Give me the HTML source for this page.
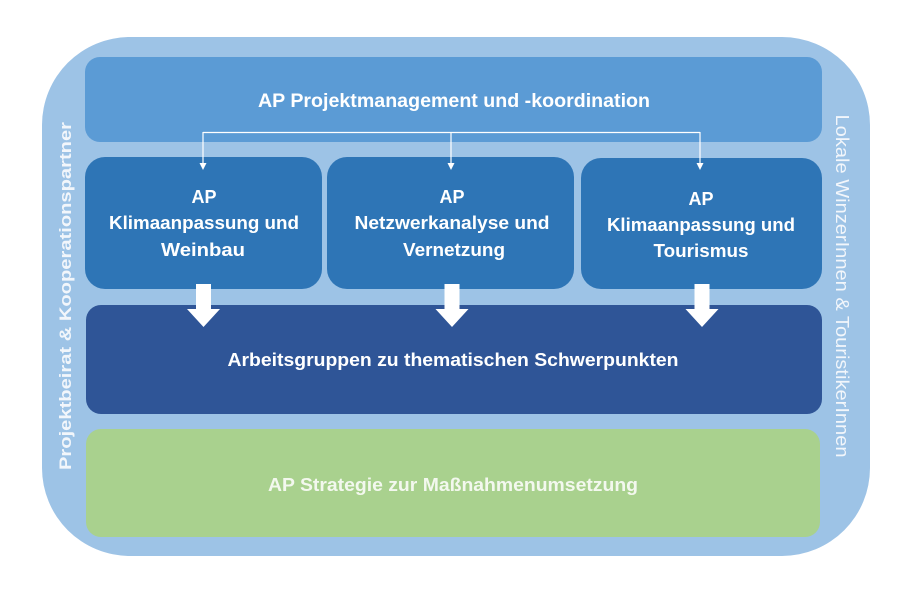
<!DOCTYPE html>
<html>
<head>
<meta charset="utf-8">
<style>
html,body{margin:0;padding:0;background:#ffffff;}
svg{display:block;}
text{font-family:"Liberation Sans",Arial,sans-serif;}
</style>
</head>
<body>
<svg width="914" height="600" viewBox="0 0 914 600" xmlns="http://www.w3.org/2000/svg">
  <rect x="0" y="0" width="914" height="600" fill="#ffffff"/>
  <!-- outer frame -->
  <rect x="42" y="37" width="828" height="519" rx="88" ry="88" fill="#9dc3e6"/>

  <!-- top bar -->
  <rect x="85" y="57" width="737" height="85" rx="15" ry="15" fill="#5b9bd5"/>
  <text x="454" y="107" font-size="19" font-weight="bold" fill="#ffffff" text-anchor="middle" textLength="392" lengthAdjust="spacingAndGlyphs">AP Projektmanagement und -koordination</text>

  <!-- three middle boxes -->
  <rect x="85" y="157" width="237" height="132" rx="20" ry="20" fill="#2e75b6"/>
  <rect x="327" y="157" width="247" height="132" rx="20" ry="20" fill="#2e75b6"/>
  <rect x="581" y="158" width="241" height="131" rx="20" ry="20" fill="#2e75b6"/>

  <!-- connector lines -->
  <g stroke="#ffffff" stroke-width="1.2" fill="none">
    <line x1="203" y1="132.5" x2="700" y2="132.5"/>
    <line x1="203" y1="132" x2="203" y2="165"/>
    <line x1="451" y1="132" x2="451" y2="165"/>
    <line x1="700" y1="132" x2="700" y2="165"/>
  </g>
  <g fill="#ffffff">
    <polygon points="199.5,163 206.5,163 203,170"/>
    <polygon points="447.5,163 454.5,163 451,170"/>
    <polygon points="696.5,163 703.5,163 700,170"/>
  </g>

  <!-- box texts -->
  <g font-size="18" font-weight="bold" fill="#ffffff" text-anchor="middle">
    <text x="204" y="203">AP</text>
    <text x="204" y="229" textLength="190" lengthAdjust="spacingAndGlyphs">Klimaanpassung und</text>
    <text x="203" y="256" textLength="84" lengthAdjust="spacingAndGlyphs">Weinbau</text>

    <text x="452" y="203">AP</text>
    <text x="452" y="229" textLength="195" lengthAdjust="spacingAndGlyphs">Netzwerkanalyse und</text>
    <text x="454" y="256" textLength="102" lengthAdjust="spacingAndGlyphs">Vernetzung</text>

    <text x="701" y="205">AP</text>
    <text x="701" y="231" textLength="188" lengthAdjust="spacingAndGlyphs">Klimaanpassung und</text>
    <text x="701" y="257" textLength="95" lengthAdjust="spacingAndGlyphs">Tourismus</text>
  </g>

  <!-- dark bar -->
  <rect x="86" y="305" width="736" height="109" rx="15" ry="15" fill="#2f5597"/>
  <text x="453" y="366" font-size="18" font-weight="bold" fill="#ffffff" text-anchor="middle" textLength="451" lengthAdjust="spacingAndGlyphs">Arbeitsgruppen zu thematischen Schwerpunkten</text>

  <!-- big arrows -->
  <g fill="#ffffff">
    <polygon points="196,284 211,284 211,309 220,309 203.5,327 187,309 196,309"/>
    <polygon points="444.5,284 459.5,284 459.5,309 468.5,309 452,327 435.5,309 444.5,309"/>
    <polygon points="694.5,284 709.5,284 709.5,309 718.5,309 702,327 685.5,309 694.5,309"/>
  </g>

  <!-- green bar -->
  <rect x="86" y="429" width="734" height="108" rx="15" ry="15" fill="#a9d18e"/>
  <text x="453" y="491" font-size="18" font-weight="bold" fill="#f3f8ee" text-anchor="middle" textLength="370" lengthAdjust="spacingAndGlyphs">AP Strategie zur Maßnahmenumsetzung</text>

  <!-- side texts -->
  <text transform="translate(71,296) rotate(-90)" font-size="17" font-weight="bold" fill="#f2f6fb" text-anchor="middle" textLength="348" lengthAdjust="spacingAndGlyphs">Projektbeirat &amp; Kooperationspartner</text>
  <text transform="translate(836,286) rotate(90)" font-size="18" fill="#f2f6fb" text-anchor="middle" textLength="343" lengthAdjust="spacingAndGlyphs">Lokale WinzerInnen &amp; TouristikerInnen</text>
</svg>
</body>
</html>
